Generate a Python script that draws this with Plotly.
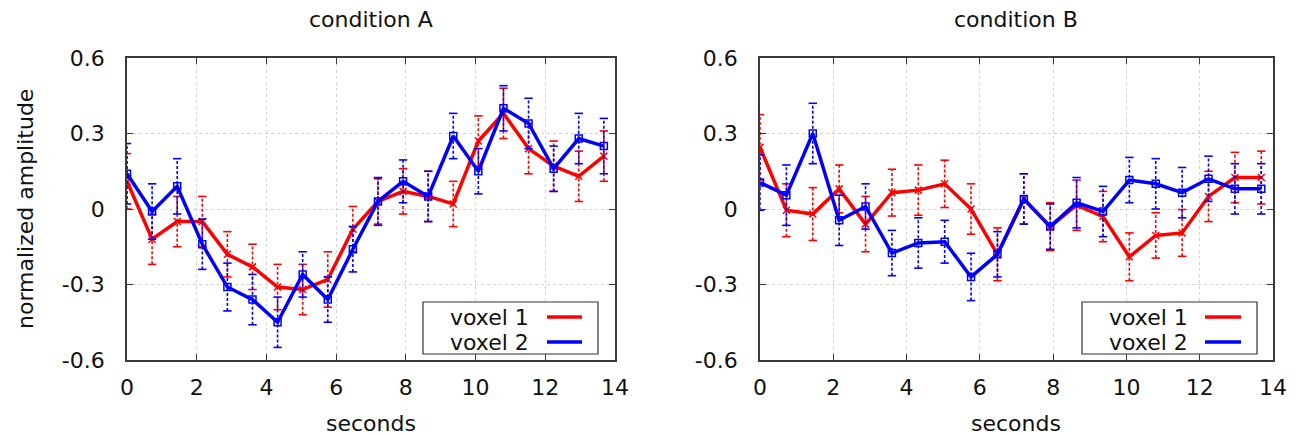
import plotly.graph_objects as go

# Sample times (s) for both conditions
t = [0.0, 0.72, 1.44, 2.16, 2.88, 3.6, 4.32, 5.04, 5.76, 6.48,
     7.2, 7.92, 8.64, 9.36, 10.08, 10.8, 11.52, 12.24, 12.96, 13.68]

# Condition A
a_vox1 = [0.11, -0.12, -0.05, -0.05, -0.18, -0.23, -0.31, -0.32, -0.28, -0.08,
          0.03, 0.07, 0.05, 0.02, 0.27, 0.38, 0.24, 0.17, 0.13, 0.21]
a_vox1_err = [0.11, 0.10, 0.10, 0.10, 0.09, 0.09, 0.09, 0.10, 0.11, 0.09,
              0.09, 0.09, 0.10, 0.09, 0.10, 0.10, 0.10, 0.10, 0.10, 0.10]
a_vox2 = [0.14, -0.01, 0.09, -0.14, -0.31, -0.36, -0.45, -0.26, -0.36, -0.16,
          0.03, 0.11, 0.05, 0.29, 0.15, 0.40, 0.34, 0.16, 0.28, 0.25]
a_vox2_err = [0.12, 0.11, 0.11, 0.10, 0.095, 0.10, 0.10, 0.09, 0.09, 0.09,
              0.095, 0.085, 0.10, 0.09, 0.09, 0.09, 0.10, 0.09, 0.10, 0.11]

# Condition B
b_vox1 = [0.245, -0.005, -0.02, 0.08, -0.06, 0.065, 0.075, 0.10, 0.0, -0.18,
          0.04, -0.07, 0.015, -0.03, -0.19, -0.105, -0.095, 0.05, 0.125, 0.125]
b_vox1_err = [0.13, 0.105, 0.105, 0.095, 0.11, 0.093, 0.10, 0.094, 0.10, 0.105,
              0.10, 0.095, 0.10, 0.10, 0.095, 0.09, 0.093, 0.10, 0.10, 0.105]
b_vox2 = [0.105, 0.055, 0.30, -0.045, 0.01, -0.175, -0.135, -0.13, -0.27, -0.18,
          0.04, -0.07, 0.025, -0.01, 0.115, 0.10, 0.065, 0.12, 0.08, 0.08]
b_vox2_err = [0.11, 0.12, 0.12, 0.10, 0.09, 0.09, 0.10, 0.085, 0.094, 0.09,
              0.10, 0.09, 0.10, 0.10, 0.09, 0.10, 0.10, 0.09, 0.10, 0.10]

titles = ["condition A", "condition B"]
series_names = ["voxel 1", "voxel 2"]
x_ticks = [0, 2, 4, 6, 8, 10, 12, 14]
y_ticks = [-0.6, -0.3, 0, 0.3, 0.6]
y_tick_text = ["-0.6", "-0.3", "0", "0.3", "0.6"]

RED = "#ff0000"
BLUE = "#0000ff"
FONT = "DejaVu Sans"
FS = 22
W, H = 1305, 436


def px(x):
    return x / W


def py(y):
    return 1 - y / H


fig = go.Figure()


def add_series(xa, ya, x, y, err, color, symbol):
    # dashed vertical error bars
    ex, ey = [], []
    for xi, yi, ei in zip(x, y, err):
        ex += [xi, xi, None]
        ey += [yi - ei, yi + ei, None]
    fig.add_trace(go.Scatter(x=ex, y=ey, mode="lines", xaxis=xa, yaxis=ya,
                             line=dict(color=color, width=1.6, dash="3px,2px"),
                             showlegend=False, hoverinfo="skip"))
    # small caps at both ends of each bar
    cx = list(x) + list(x)
    cy = [yi + ei for yi, ei in zip(y, err)] + [yi - ei for yi, ei in zip(y, err)]
    fig.add_trace(go.Scatter(x=cx, y=cy, mode="markers", xaxis=xa, yaxis=ya,
                             marker=dict(symbol="line-ew", size=6,
                                         line=dict(color=color, width=1.6)),
                             showlegend=False, hoverinfo="skip"))
    # mean curve
    fig.add_trace(go.Scatter(x=x, y=y, mode="lines+markers", xaxis=xa, yaxis=ya,
                             line=dict(color=color, width=3.5),
                             marker=dict(symbol=symbol, size=7, color=color,
                                         line=dict(color=color, width=1.5)),
                             showlegend=False))


add_series("x", "y", t, a_vox1, a_vox1_err, RED, "x-thin")
add_series("x", "y", t, a_vox2, a_vox2_err, BLUE, "square-open")
add_series("x2", "y2", t, b_vox1, b_vox1_err, RED, "x-thin")
add_series("x2", "y2", t, b_vox2, b_vox2_err, BLUE, "square-open")

axis_common = dict(
    automargin=False,
    showline=True, linecolor="#3a3a3a", linewidth=1.7, mirror="ticks",
    ticks="inside", ticklen=6, tickwidth=1, tickcolor="#3a3a3a",
    showgrid=True, gridcolor="#d2d2d2", gridwidth=1, griddash="dot",
    zeroline=False, tickfont=dict(family=FONT, size=FS, color="#111111"),
)

y_dom = [py(360), py(58)]
fig.update_layout(
    width=W, height=H,
    margin=dict(l=0, r=0, t=0, b=0, autoexpand=False),
    paper_bgcolor="white", plot_bgcolor="white",
    showlegend=False,
    xaxis=dict(domain=[px(127), px(615)], range=[0, 14], tickvals=x_ticks,
               anchor="y", ticklabelstandoff=7, **axis_common),
    yaxis=dict(domain=y_dom, range=[-0.6, 0.6], tickvals=y_ticks,
               ticktext=y_tick_text, anchor="x", ticklabelstandoff=16, **axis_common),
    xaxis2=dict(domain=[px(760), px(1273)], range=[0, 14], tickvals=x_ticks,
                anchor="y2", ticklabelstandoff=7, **axis_common),
    yaxis2=dict(domain=y_dom, range=[-0.6, 0.6], tickvals=y_ticks,
                ticktext=y_tick_text, anchor="x2", ticklabelstandoff=16, **axis_common),
)

annotations = []
shapes = []
text_font = dict(family=FONT, size=FS, color="#111111")

# panel titles and x-axis labels
for cx, title in zip([371, 1016], titles):
    annotations.append(dict(x=px(cx), y=py(20), xref="paper", yref="paper",
                            text=title, showarrow=False, font=text_font,
                            xanchor="center", yanchor="middle"))
    annotations.append(dict(x=px(cx), y=py(423), xref="paper", yref="paper",
                            text="seconds", showarrow=False, font=text_font,
                            xanchor="center", yanchor="middle"))

# y-axis label on the left panel
annotations.append(dict(x=px(26), y=py(209), xref="paper", yref="paper",
                        text="normalized amplitude", showarrow=False,
                        font=text_font, textangle=-90,
                        xanchor="center", yanchor="middle"))

# boxed legends with the line sample to the right of the label
for box_l, box_r, txt_r, ln_l, ln_r in [(423, 598, 531, 547, 582),
                                        (1082, 1257, 1190, 1205, 1241)]:
    shapes.append(dict(type="rect", xref="paper", yref="paper",
                       x0=px(box_l), x1=px(box_r), y0=py(354), y1=py(302),
                       line=dict(color="#333333", width=1.2), fillcolor="white",
                       layer="above"))
    for row_y, name, color in zip([317, 342], series_names, [RED, BLUE]):
        annotations.append(dict(x=px(txt_r), y=py(row_y), xref="paper", yref="paper",
                                text=name, showarrow=False, font=text_font,
                                xanchor="right", yanchor="middle"))
        shapes.append(dict(type="line", xref="paper", yref="paper",
                           x0=px(ln_l), x1=px(ln_r), y0=py(row_y), y1=py(row_y),
                           line=dict(color=color, width=3.5), layer="above"))

fig.update_layout(annotations=annotations, shapes=shapes)

fig.write_html("out.html")
